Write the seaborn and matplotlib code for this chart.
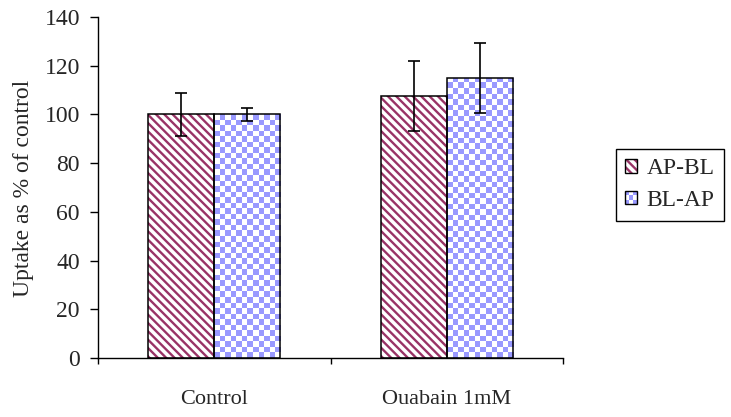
import numpy as np
import pandas as pd
import matplotlib
matplotlib.use('Agg')
import matplotlib.pyplot as plt
import seaborn as sns
from matplotlib.colors import ListedColormap
from matplotlib.patches import Rectangle, Patch
from matplotlib.legend_handler import HandlerBase

# values
conditions = ['Control', 'Ouabain 1mM']
directions = ['AP-BL', 'BL-AP']
ap_bl_mean = [100.0, 107.5]
ap_bl_err = [8.7, 14.5]
bl_ap_mean = [100.0, 115.0]
bl_ap_err = [2.8, 14.5]
y_ticks = [0, 20, 40, 60, 80, 100, 120, 140]

MAROON = '#993366'
BLUE = '#9999FF'
CELL_PX = 5.5

sns.set_style('ticks')
plt.rcParams['font.family'] = ['Liberation Serif', 'DejaVu Serif']
plt.rcParams['hatch.linewidth'] = 1.7


class BoxHandler(HandlerBase):
    """Legend key: small square with a hatch or a checkerboard and a black frame."""

    def __init__(self, kind):
        super().__init__()
        self.kind = kind

    def create_artists(self, legend, orig_handle, xdescent, ydescent,
                       width, height, fontsize, trans):
        x0, y0 = -xdescent, -ydescent
        arts = []
        if self.kind == 'hatch':
            arts.append(Rectangle((x0, y0), width, height, facecolor='white',
                                  edgecolor=MAROON, lw=0, hatch='\\\\\\\\',
                                  transform=trans))
        else:
            n = 3
            for i in range(n):
                for j in range(n):
                    c = BLUE if (i + j) % 2 == 0 else 'white'
                    arts.append(Rectangle((x0 + i * width / n, y0 + j * height / n),
                                          width / n, height / n, facecolor=c,
                                          edgecolor='none', transform=trans))
        arts.append(Rectangle((x0, y0), width, height, fill=False,
                              edgecolor='black', lw=1, transform=trans))
        return arts


df = pd.DataFrame({
    'condition': conditions * 2,
    'direction': [directions[0]] * 2 + [directions[1]] * 2,
    'uptake': ap_bl_mean + bl_ap_mean,
})
errs = [ap_bl_err, bl_ap_err]

fig = plt.figure(figsize=(7.31, 4.17), dpi=100)
ax = fig.add_axes([98 / 731, 1 - 358 / 417, 465 / 731, 341 / 417])

sns.barplot(data=df, x='condition', y='uptake', hue='direction',
            order=conditions, hue_order=directions,
            palette=['white', 'white'], width=0.568, errorbar=None,
            linewidth=0, legend=False, saturation=1, ax=ax)

ax.set_xlim(-0.5, 1.5)
ax.set_ylim(0, 140)

# pixel size of one data unit, for the checkerboard cells
px_per_x = ax.transData.transform((1, 0))[0] - ax.transData.transform((0, 0))[0]
px_per_y = ax.transData.transform((0, 1))[1] - ax.transData.transform((0, 0))[1]
checker_cmap = ListedColormap(['white', BLUE])

bar_containers = list(ax.containers)
for k, container in enumerate(bar_containers):
    xs, ys = [], []
    for patch in container.patches:
        x0, w, h = patch.get_x(), patch.get_width(), patch.get_height()
        xs.append(x0 + w / 2)
        ys.append(h)
        if k == 0:
            patch.set_facecolor('white')
            patch.set_edgecolor(MAROON)
            patch.set_linewidth(0)
            patch.set_hatch('\\\\\\\\')
        else:
            nx = max(1, int(round(w * px_per_x / CELL_PX)))
            ny = max(1, int(round(h * px_per_y / CELL_PX)))
            grid = np.indices((ny, nx)).sum(axis=0) % 2
            im = ax.imshow(grid, extent=[x0, x0 + w, 0, h], cmap=checker_cmap,
                           interpolation='nearest', aspect='auto', zorder=1.5,
                           origin='upper')
            im.set_clip_path(patch)
        ax.add_patch(Rectangle((x0, 0), w, h, fill=False, edgecolor='black',
                               lw=1.1, zorder=2))
    ax.errorbar(xs, ys, yerr=errs[k], fmt='none', ecolor='black',
                elinewidth=1.2, capsize=4.2, capthick=1.2, zorder=3)

ax.set_xlim(-0.5, 1.5)
ax.set_ylim(0, 140)
ax.set_aspect('auto')

ax.set_yticks(y_ticks)
ax.set_xticks(range(len(conditions)))
ax.set_xticklabels(conditions)
ax.set_xticks([-0.5, 0.5, 1.5], minor=True)
ax.tick_params(axis='x', which='major', length=0, pad=23, labelsize=16)
ax.tick_params(axis='x', which='minor', length=4.5, width=1, direction='out',
               color='black')
ax.tick_params(axis='y', length=6, width=1, direction='out', pad=7,
               labelsize=17, color='black')
ax.set_xlabel('')
ax.set_ylabel('Uptake as % of control', fontsize=17, loc='bottom')
ax.yaxis.set_label_coords(-0.137, 0.179)

sns.despine(ax=ax)
for side in ['left', 'bottom']:
    ax.spines[side].set_color('black')
    ax.spines[side].set_linewidth(1)

handles = [Patch(label=directions[0]), Patch(label=directions[1])]
fig.legend(handles=[handles[0], handles[1]], labels=directions,
           handler_map={handles[0]: BoxHandler('hatch'),
                        handles[1]: BoxHandler('checker')},
           loc='upper left', bbox_to_anchor=(616 / 731, 1 - 149 / 417),
           borderaxespad=0, fontsize=17, frameon=True, fancybox=False,
           edgecolor='black', framealpha=1, handlelength=0.5,
           handleheight=0.5, handletextpad=0.4, labelspacing=0.45,
           borderpad=0.4)

plt.savefig('out.png', dpi=100)
plt.close(fig)
